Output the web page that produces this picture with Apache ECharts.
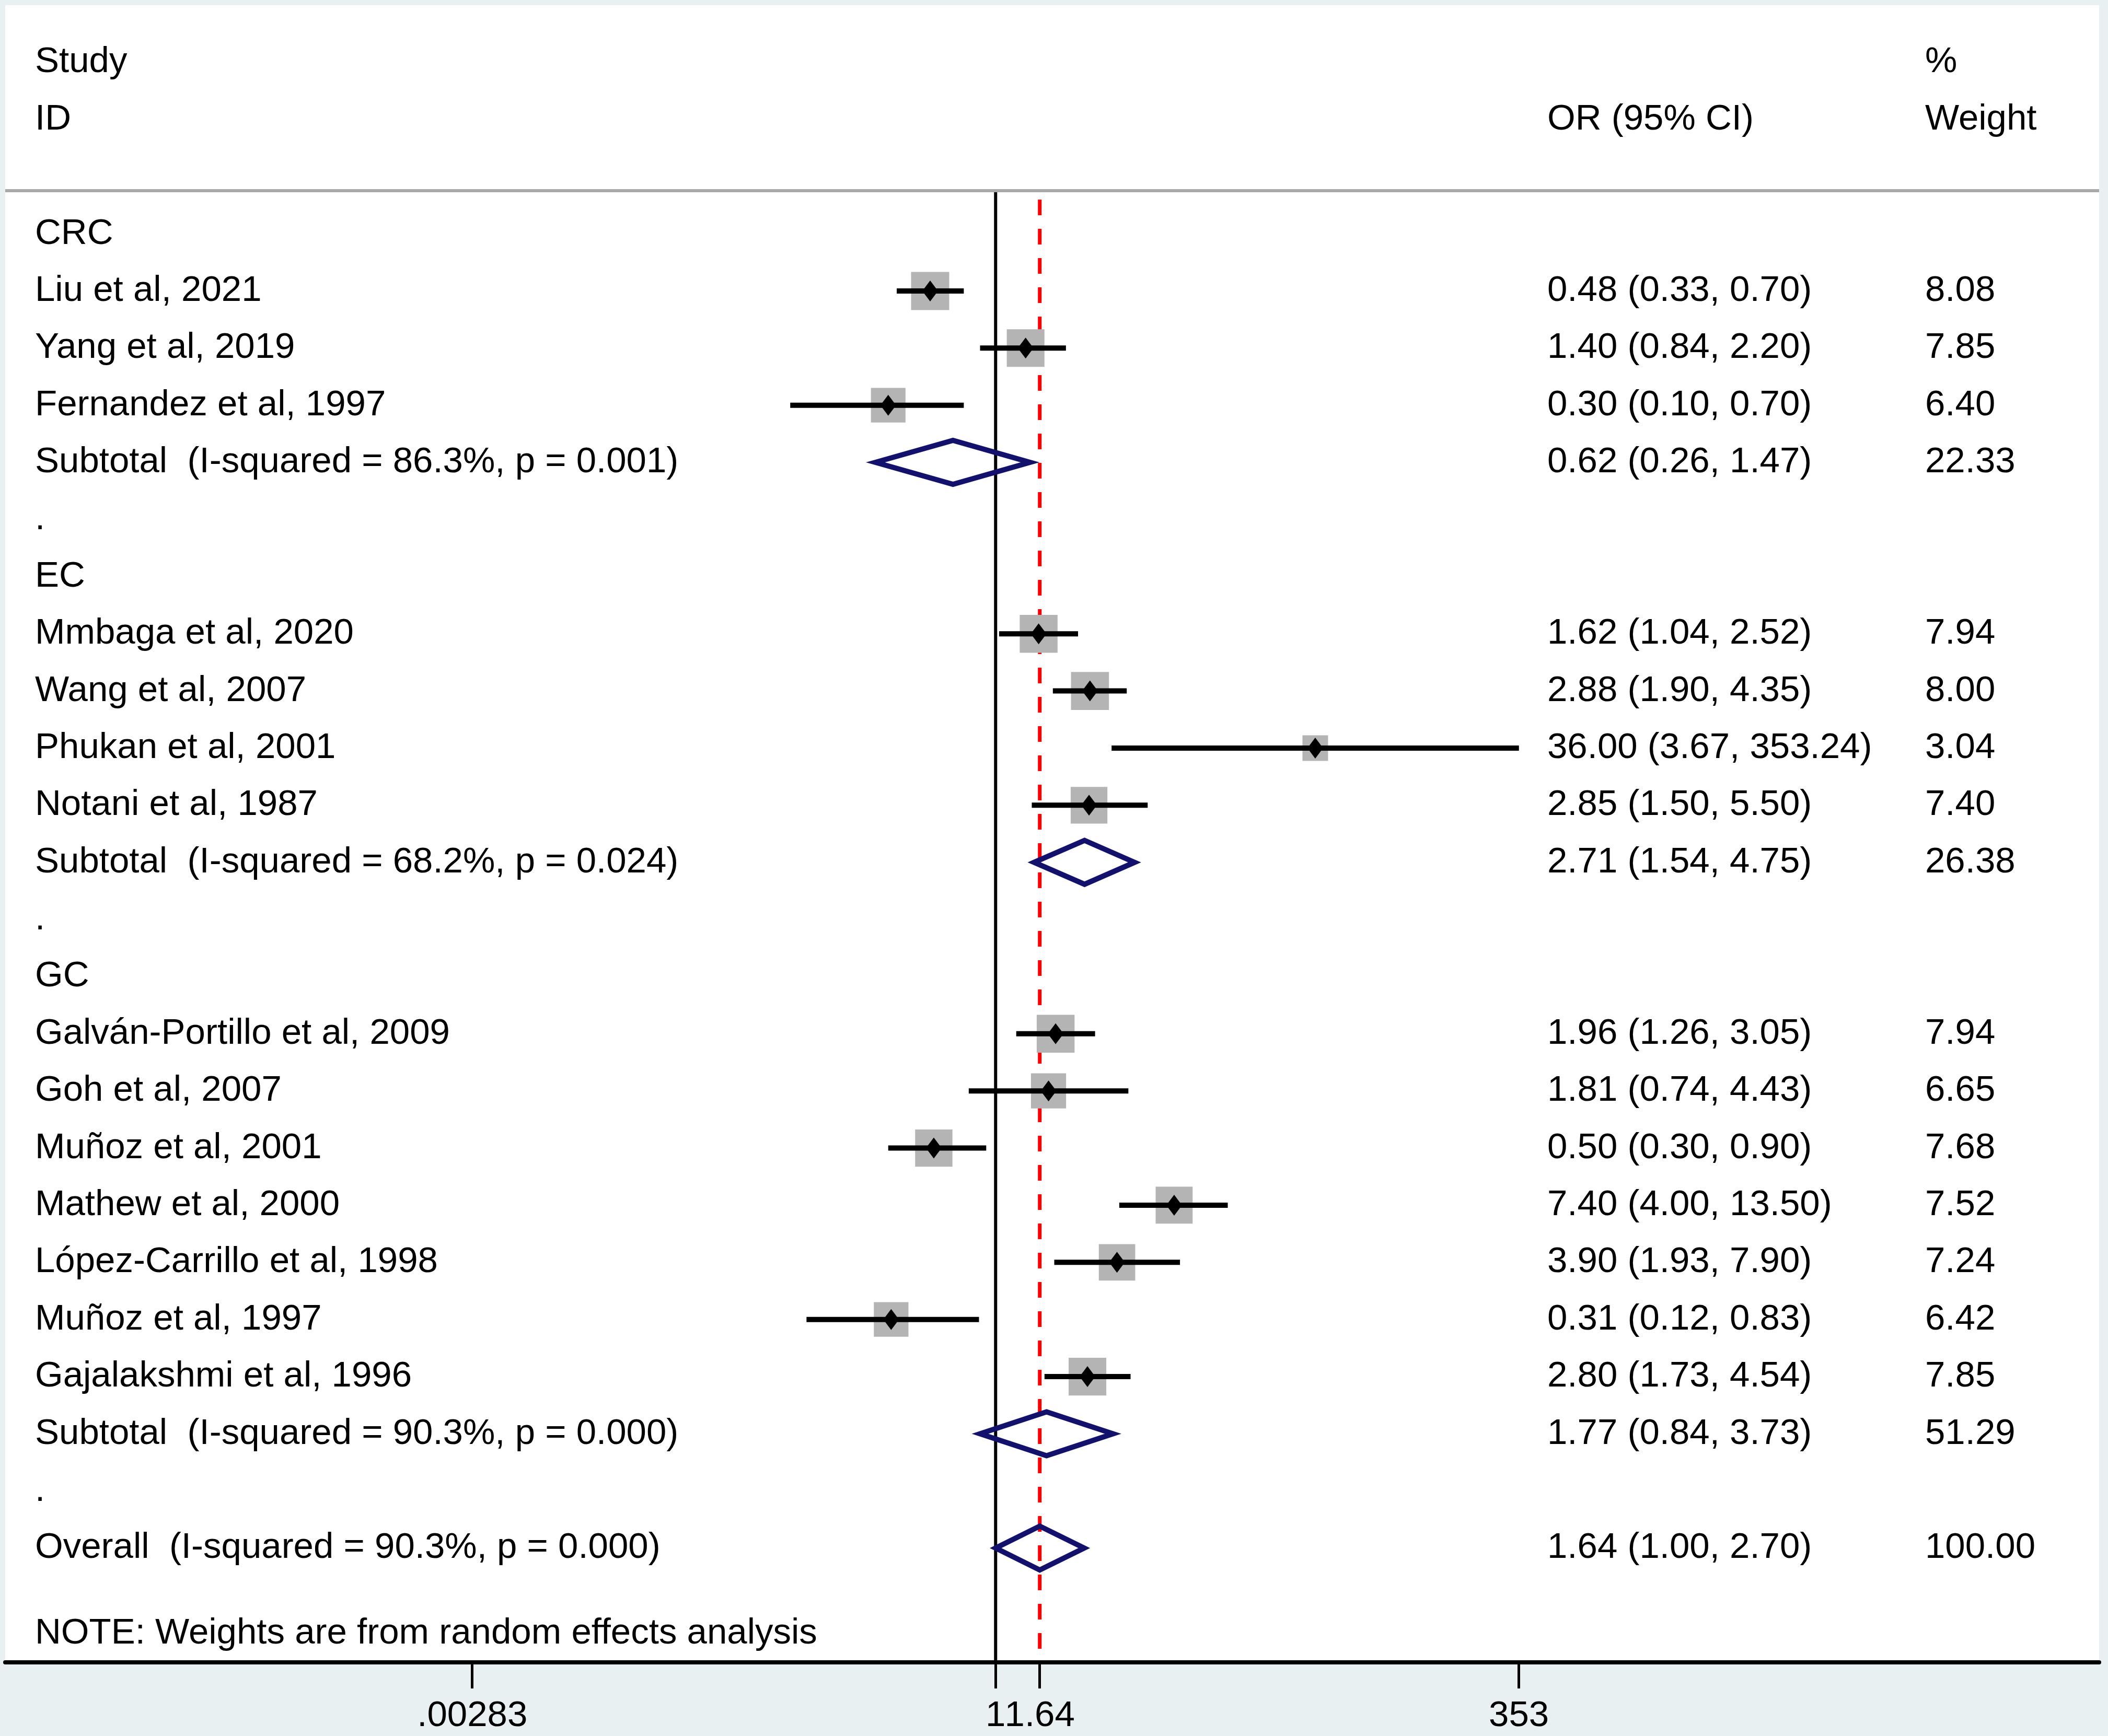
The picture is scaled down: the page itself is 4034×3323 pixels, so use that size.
<!DOCTYPE html>
<html>
<head>
<meta charset="utf-8">
<title>Forest plot</title>
<script src="https://cdn.jsdelivr.net/npm/echarts@6.0.0/dist/echarts.min.js"></script>
<style>
  html, body { margin: 0; padding: 0; background: #e9f0f1; }
  #chart { width: 4034px; height: 3323px; }
</style>
</head>
<body>
<div id="chart"></div>
<script>
// table rows, top to bottom (row index = position on the y axis)
var rowLabels = [
  'CRC',
  'Liu et al, 2021',
  'Yang et al, 2019',
  'Fernandez et al, 1997',
  'Subtotal  (I-squared = 86.3%, p = 0.001)',
  '.',
  'EC',
  'Mmbaga et al, 2020',
  'Wang et al, 2007',
  'Phukan et al, 2001',
  'Notani et al, 1987',
  'Subtotal  (I-squared = 68.2%, p = 0.024)',
  '.',
  'GC',
  'Galván-Portillo et al, 2009',
  'Goh et al, 2007',
  'Muñoz et al, 2001',
  'Mathew et al, 2000',
  'López-Carrillo et al, 1998',
  'Muñoz et al, 1997',
  'Gajalakshmi et al, 1996',
  'Subtotal  (I-squared = 90.3%, p = 0.000)',
  '.',
  'Overall  (I-squared = 90.3%, p = 0.000)'
];
var rowKind = [
  'group', 'study', 'study', 'study', 'pooled', 'gap',
  'group', 'study', 'study', 'study', 'study', 'pooled', 'gap',
  'group', 'study', 'study', 'study', 'study', 'study', 'study', 'study', 'pooled', 'gap',
  'pooled'
];
var orValues = [null, 0.48, 1.40, 0.30, 0.62, null, null, 1.62, 2.88, 36.00, 2.85, 2.71, null, null, 1.96, 1.81, 0.50, 7.40, 3.90, 0.31, 2.80, 1.77, null, 1.64];
var ciLower  = [null, 0.33, 0.84, 0.10, 0.26, null, null, 1.04, 1.90, 3.67, 1.50, 1.54, null, null, 1.26, 0.74, 0.30, 4.00, 1.93, 0.12, 1.73, 0.84, null, 1.00];
var ciUpper  = [null, 0.70, 2.20, 0.70, 1.47, null, null, 2.52, 4.35, 353.24, 5.50, 4.75, null, null, 3.05, 4.43, 0.90, 13.50, 7.90, 0.83, 4.54, 3.73, null, 2.70];
var weights  = [null, 8.08, 7.85, 6.40, 22.33, null, null, 7.94, 8.00, 3.04, 7.40, 26.38, null, null, 7.94, 6.65, 7.68, 7.52, 7.24, 6.42, 7.85, 51.29, null, 100.00];

var headerStudy = ['Study', 'ID'];
var headerCI = 'OR (95% CI)';
var headerWeight = ['%', 'Weight'];
var footNote = 'NOTE: Weights are from random effects analysis';

var tickValues = [0.00283, 1, 1.64, 353];
var tickLabels = ['.00283', '1', '1.64', '353'];
var nullValue = 1;
var overallValue = 1.64;

// layout
var FONT = '"Liberation Sans", Arial, sans-serif';
var FS = 69;
var colStudy = 67;
var colCI = 2961;
var colWeight = 3684;
var navy = '#12126e';

var fmt = function (v) { return v.toFixed(2); };

// text rows: [row, left, ci, weight]
var textRows = [
  [-3, headerStudy[0], '', headerWeight[0]],
  [-2, headerStudy[1], headerCI, headerWeight[1]]
];
var squareData = [];
var ciData = [];
var pointData = [];
var pooledData = [];
rowLabels.forEach(function (lab, i) {
  var ci = '', w = '';
  if (orValues[i] != null) {
    ci = fmt(orValues[i]) + ' (' + fmt(ciLower[i]) + ', ' + fmt(ciUpper[i]) + ')';
    w = fmt(weights[i]);
  }
  textRows.push([i, lab, ci, w]);
  if (rowKind[i] === 'study') {
    squareData.push([orValues[i], i, weights[i]]);
    ciData.push([ciLower[i], i, ciUpper[i]]);
    pointData.push([orValues[i], i]);
  } else if (rowKind[i] === 'pooled') {
    pooledData.push([ciLower[i], i, orValues[i], ciUpper[i]]);
  }
});
textRows.push([24.5, footNote, '', '']);

var chart = echarts.init(document.getElementById('chart'));

chart.setOption({
  animation: false,
  backgroundColor: '#e9f0f1',
  grid: {
    left: 10, right: 17, top: 10, bottom: 141,
    show: true, backgroundColor: '#ffffff', borderWidth: 0
  },
  xAxis: {
    type: 'log',
    logBase: 10,
    min: 1.506e-5,
    max: 2.36e5,
    axisLine: { show: true, onZero: false, lineStyle: { color: '#000', width: 8 } },
    axisTick: {
      show: true, length: 50, inside: false,
      customValues: tickValues,
      lineStyle: { color: '#000', width: 5 }
    },
    axisLabel: {
      show: true, margin: 68,
      customValues: tickValues,
      fontFamily: FONT, fontSize: FS, color: '#000',
      formatter: function (v) {
        var k = tickValues.indexOf(v);
        return k >= 0 ? tickLabels[k] : '';
      }
    },
    splitLine: { show: false },
    minorTick: { show: false }
  },
  yAxis: {
    type: 'value',
    inverse: true,
    min: -4,
    max: 25,
    show: false
  },
  series: [
    {
      name: 'null line',
      type: 'line',
      data: [[nullValue, -0.76], [nullValue, 25]],
      showSymbol: false,
      symbol: 'none',
      silent: true,
      z: 2,
      lineStyle: { color: '#000', width: 6 },
      markLine: {
        silent: true,
        symbol: 'none',
        label: { show: false },
        lineStyle: { color: '#a9a9a9', width: 6, type: 'solid' },
        data: [{ yAxis: -0.76 }]
      }
    },
    {
      name: 'overall line',
      type: 'line',
      data: [[overallValue, -0.6], [overallValue, 25]],
      showSymbol: false,
      symbol: 'none',
      silent: true,
      z: 2,
      lineStyle: { color: '#ff0000', width: 7, type: [30, 26] }
    },
    {
      name: 'weight boxes',
      type: 'scatter',
      data: squareData,
      symbol: 'rect',
      symbolSize: function (val) { return 11 + 21.8 * Math.sqrt(val[2]); },
      itemStyle: { color: '#b4b4b4', opacity: 1 },
      silent: true,
      z: 3
    },
    {
      name: 'ci',
      type: 'custom',
      data: ciData,
      silent: true,
      z: 4,
      renderItem: function (params, api) {
        var a = api.coord([api.value(0), api.value(1)]);
        var b = api.coord([api.value(2), api.value(1)]);
        return {
          type: 'line',
          shape: { x1: a[0], y1: a[1], x2: b[0], y2: b[1] },
          style: { stroke: '#000', lineWidth: 10 }
        };
      }
    },
    {
      name: 'estimates',
      type: 'scatter',
      data: pointData,
      symbol: 'diamond',
      symbolSize: [30, 40],
      itemStyle: { color: '#000', opacity: 1 },
      silent: true,
      z: 5
    },
    {
      name: 'pooled',
      type: 'custom',
      data: pooledData,
      silent: true,
      z: 6,
      renderItem: function (params, api) {
        var row = api.value(1);
        var lo = api.coord([api.value(0), row]);
        var mid = api.coord([api.value(2), row]);
        var hi = api.coord([api.value(3), row]);
        var h = 42;
        return {
          type: 'polygon',
          shape: { points: [[lo[0], lo[1]], [mid[0], mid[1] - h], [hi[0], hi[1]], [mid[0], mid[1] + h]] },
          style: { fill: 'none', stroke: navy, lineWidth: 10, lineJoin: 'miter' }
        };
      }
    },
    {
      name: 'table text',
      type: 'custom',
      data: textRows.map(function (r) { return [nullValue, r[0]]; }),
      silent: true,
      z: 7,
      renderItem: function (params, api) {
        var r = textRows[params.dataIndex];
        var y = api.coord([nullValue, api.value(1)])[1];
        var cols = [[colStudy, r[1]], [colCI, r[2]], [colWeight, r[3]]];
        return {
          type: 'group',
          children: cols.filter(function (c) { return c[1] !== ''; }).map(function (c) {
            return {
              type: 'text',
              style: {
                x: c[0], y: y, text: c[1],
                fill: '#000', fontSize: FS, fontFamily: FONT,
                align: 'left', verticalAlign: 'middle'
              }
            };
          })
        };
      }
    }
  ]
});
</script>
</body>
</html>
